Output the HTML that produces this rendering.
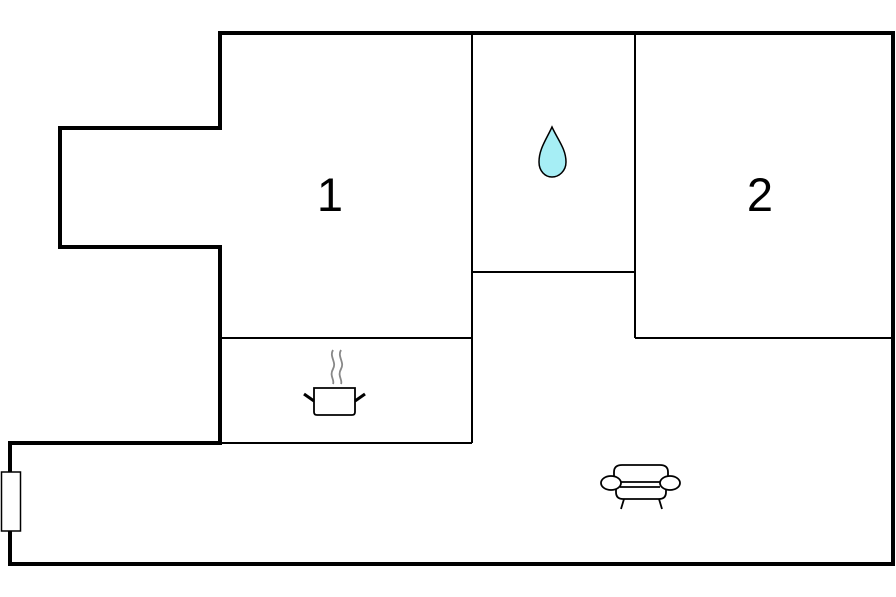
<!DOCTYPE html>
<html><head><style>body{margin:0;background:#fff}svg{display:block}</style></head><body>
<svg width="896" height="597" viewBox="0 0 896 597" xmlns="http://www.w3.org/2000/svg">
<rect width="896" height="597" fill="#fff"/>
<g stroke="#000" stroke-width="2" fill="none">
<line x1="472" y1="33" x2="472" y2="443"/>
<line x1="635" y1="33" x2="635" y2="338"/>
<line x1="472" y1="272" x2="635" y2="272"/>
<line x1="635" y1="338" x2="893" y2="338"/>
<line x1="220" y1="338" x2="472" y2="338"/>
<line x1="220" y1="443" x2="472" y2="443"/>
</g>
<path d="M220,33 H893 V564 H10 V443 H220 V247 H60 V128 H220 Z" fill="none" stroke="#000" stroke-width="4" stroke-linejoin="miter"/>
<rect x="1.5" y="472" width="19" height="59" fill="#fff" stroke="#000" stroke-width="1.5"/>
<text x="330" y="211" font-family="Liberation Sans, sans-serif" font-size="47" text-anchor="middle">1</text>
<text x="760" y="211" font-family="Liberation Sans, sans-serif" font-size="47" text-anchor="middle">2</text>
<path d="M552,127 C546,140 539,149 539,162 C539,171 545,177 552,177 C559,177 566,171 566,162 C566,149 558,140 552,127 Z" fill="#a6eef5" stroke="#000" stroke-width="1.5"/>
<g fill="none">
<path d="M333,350 C329,357 337,362 333,369 C329,376 335,380 333,384" stroke="#888" stroke-width="1.8"/>
<path d="M341,350 C337,357 345,362 341,369 C337,376 343,380 341,384" stroke="#888" stroke-width="1.8"/>
<path d="M314,388 H355 V412 Q355,415 352,415 H317 Q314,415 314,412 Z" stroke="#000" stroke-width="1.8" fill="#fff"/>
<line x1="304" y1="394" x2="314" y2="401" stroke="#000" stroke-width="3"/>
<line x1="365" y1="394" x2="355" y2="401" stroke="#000" stroke-width="3"/>
<g stroke="#000" stroke-width="1.8">
<path d="M614,482 V472 Q614,465 622,465 H660 Q668,465 668,472 V482" fill="#fff"/>
<path d="M616,487 V492 Q616,499 623,499 H659 Q666,499 666,492 V487" fill="#fff"/>
<line x1="620" y1="482" x2="660" y2="482"/>
<line x1="620" y1="487" x2="660" y2="487"/>
<ellipse cx="611" cy="483" rx="10" ry="7" fill="#fff"/>
<ellipse cx="670" cy="483" rx="10" ry="7" fill="#fff"/>
<line x1="624" y1="499" x2="621" y2="509"/>
<line x1="659" y1="499" x2="662" y2="509"/>
</g>
</g>
</svg>
</body></html>
